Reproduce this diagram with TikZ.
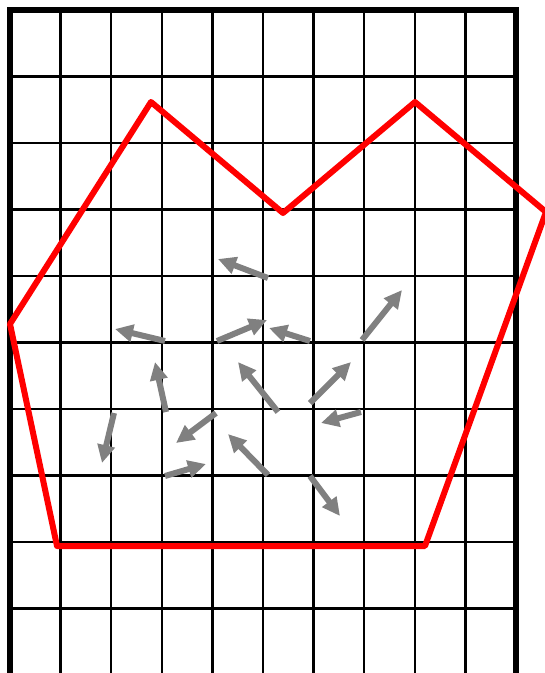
\documentclass[tikz,border=0pt]{standalone}
\usetikzlibrary{arrows.meta}
\definecolor{arrgray}{RGB}{128,128,128}
\tikzset{
  gridline/.style={line width=2.5pt, black},
  frameline/.style={line width=6pt, black, line join=miter},
  polyline/.style={line width=6pt, red, line join=round},
  vec/.style={line width=6pt, arrgray, -{Triangle[length=18pt,width=17pt]}}
}
\begin{document}
\begin{tikzpicture}[x=1pt,y=-1pt]
\useasboundingbox (0,0) rectangle (545,673);
\begin{scope}
\clip (0,0) rectangle (545,673);
% grid
\foreach \i in {1,...,9} {
  \draw[gridline] ({10+50.6*\i},10) -- ({10+50.6*\i},690);
}
\foreach \j in {1,...,10} {
  \draw[gridline] (10,{10+66.5*\j}) -- (516,{10+66.5*\j});
}
% frame
\draw[frameline] (10,690) -- (10,10) -- (516,10) -- (516,690);
% red polygon
\coordinate (p1) at (151,102);
\coordinate (p2) at (283,213);
\coordinate (p3) at (415,102);
\coordinate (p4) at (546,212);
\coordinate (p5) at (425,546);
\coordinate (p6) at (57,546);
\coordinate (p7) at (10,324);
\draw[polyline] (p1) -- (p2) -- (p3) -- (p4) -- (p5) -- (p6) -- (p7) -- cycle;
% arrows
\coordinate (a1) at (268,278); \coordinate (b1) at (218,259);
\coordinate (a2) at (165,341); \coordinate (b2) at (115,329);
\coordinate (a3) at (217,341); \coordinate (b3) at (267,320);
\coordinate (a4) at (310,341); \coordinate (b4) at (269,328);
\coordinate (a5) at (362,340); \coordinate (b5) at (402,290);
\coordinate (a6) at (166,412); \coordinate (b6) at (155,362);
\coordinate (a7) at (278,412); \coordinate (b7) at (238,362);
\coordinate (a8) at (310,403); \coordinate (b8) at (351,362);
\coordinate (a9) at (361,412); \coordinate (b9) at (321,423);
\coordinate (a10) at (114,413); \coordinate (b10) at (102,463);
\coordinate (a11) at (216,413); \coordinate (b11) at (176,443);
\coordinate (a12) at (165,476); \coordinate (b12) at (206,464);
\coordinate (a13) at (268,475); \coordinate (b13) at (228,434);
\coordinate (a14) at (310,476); \coordinate (b14) at (340,516);
\foreach \k in {1,...,14} {
  \draw[vec] (a\k) -- (b\k);
}
\end{scope}
\end{tikzpicture}
\end{document}
